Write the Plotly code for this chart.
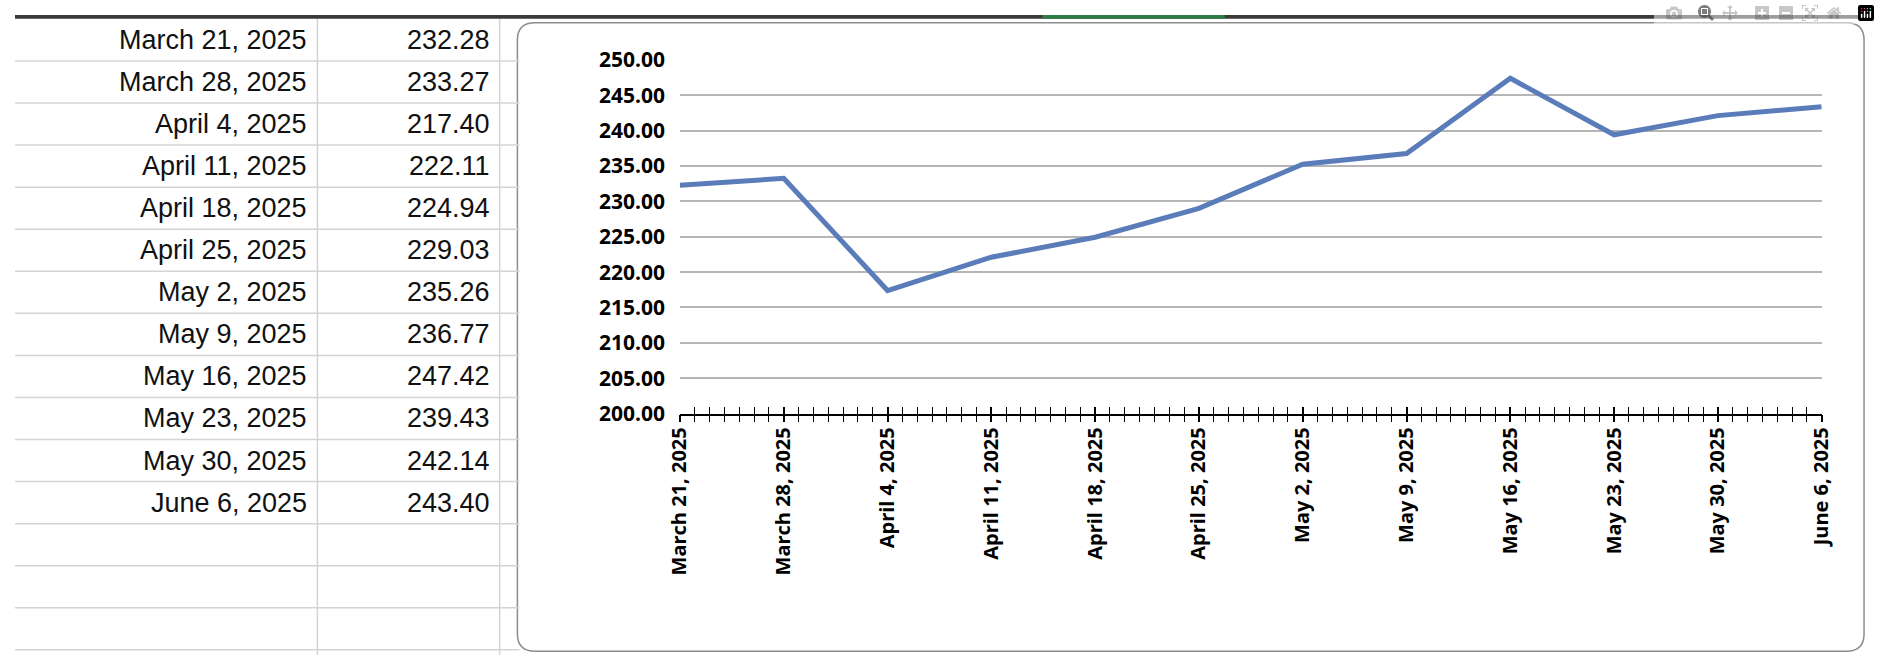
import plotly.graph_objects as go
import pandas as pd

dates = ["2025-03-21","2025-03-28","2025-04-04","2025-04-11","2025-04-18","2025-04-25",
         "2025-05-02","2025-05-09","2025-05-16","2025-05-23","2025-05-30","2025-06-06"]
values = [232.28,233.27,217.40,222.11,224.94,229.03,235.26,236.77,247.42,239.43,242.14,243.40]

W, H = 1880, 668
def px(x): return x / W
def py(y): return 1 - y / H

fig = go.Figure()
fig.add_trace(go.Scatter(x=dates, y=values, mode="lines",
                         line=dict(color="#5A7DBA", width=5), xaxis="x", yaxis="y"))
fig.add_trace(go.Scatter(x=dates, y=values, mode="lines", line=dict(width=0),
                         hoverinfo="skip", xaxis="x2", yaxis="y", showlegend=False))

shapes = []
for k in range(15):
    y = 48 + 43.9 * k
    shapes.append(dict(type="line", xref="paper", yref="paper", x0=0, x1=px(512),
                       y0=py(y), y1=py(y), line=dict(color="#D4D4D4", width=1.5)))
for x in (307, 492):
    shapes.append(dict(type="line", xref="paper", yref="paper", x0=px(x), x1=px(x),
                       y0=0, y1=1, line=dict(color="#D4D4D4", width=1.5)))
shapes.append(dict(type="rect", xref="paper", yref="paper", x0=0, x1=1, y0=py(4), y1=1,
                   fillcolor="#3A3A3A", line=dict(width=0)))
shapes.append(dict(type="rect", xref="paper", yref="paper", x0=px(1043), x1=px(1228), y0=py(4), y1=1,
                   fillcolor="#2E7D46", line=dict(width=0)))
x0, x1, y0, y1 = px(510), px(1877), py(664), py(8)
rx, ry = 18 / W, 18 / H
path = (f"M {x0+rx},{y1} L {x1-rx},{y1} Q {x1},{y1} {x1},{y1-ry} L {x1},{y0+ry} "
        f"Q {x1},{y0} {x1-rx},{y0} L {x0+rx},{y0} Q {x0},{y0} {x0},{y0+ry} "
        f"L {x0},{y1-ry} Q {x0},{y1} {x0+rx},{y1} Z")
shapes.append(dict(type="path", xref="paper", yref="paper", path=path,
                   fillcolor="white", line=dict(color="#8C8C8C", width=1.5), layer="below"))

annotations = []
tfont = dict(size=27, color="#111", family="Liberation Sans Narrow, Liberation Sans")
for k, (d, v) in enumerate(zip(dates, values)):
    y = 26 + 43.9 * k
    lbl = pd.Timestamp(d).strftime("%B %-d, %Y")
    annotations.append(dict(xref="paper", yref="paper", x=px(298), y=py(y), text=lbl,
                            showarrow=False, xanchor="right", yanchor="middle", font=tfont))
    annotations.append(dict(xref="paper", yref="paper", x=px(484), y=py(y), text=f"{v:.2f}",
                            showarrow=False, xanchor="right", yanchor="middle", font=tfont))

dom_x = [px(675), px(1834)]
rng = ["2025-03-21", "2025-06-06"]
fig.update_layout(
    width=W, height=H, margin=dict(l=0, r=0, t=0, b=0),
    paper_bgcolor="white", plot_bgcolor="rgba(0,0,0,0)", showlegend=False,
    shapes=shapes, annotations=annotations,
    xaxis=dict(domain=dom_x, type="date", range=rng, tick0="2025-03-21", dtick=7*86400000,
               tickformat="%B %-d, %Y", tickangle=-90, ticks="inside", ticklen=7,
               tickcolor="black", tickwidth=1.5, showgrid=False, showline=True,
               linecolor="black", linewidth=1.5, anchor="y", ticklabelstandoff=4,
               tickfont=dict(family="Open Sans", size=20, color="black", weight="bold"),
               minor=dict(dtick=86400000, ticks="inside", ticklen=7, tickcolor="black", tickwidth=1, showgrid=False)),
    xaxis2=dict(domain=dom_x, type="date", range=rng, tick0="2025-03-21", dtick=7*86400000,
                overlaying="x", anchor="y", showticklabels=False, ticks="outside", ticklen=7,
                tickcolor="black", tickwidth=1.5, showgrid=False,
                minor=dict(dtick=86400000, ticks="outside", ticklen=7, tickcolor="black", tickwidth=1)),
    yaxis=dict(domain=[py(416), py(47)], range=[200, 250], dtick=5, tickformat=".2f",
               showgrid=True, gridcolor="#B5B5B5", gridwidth=1.5, zeroline=False, ticks="",
               ticklabelstandoff=14,
               tickfont=dict(family="Open Sans", size=21, color="black", weight="bold")),
)
fig.write_html("out.html")
with open("out.html", encoding="utf-8") as f:
    html = f.read()
html = html.replace("<head>", "<head><style>html,body{margin:0;padding:0;overflow:hidden}</style>", 1)
with open("out.html", "w", encoding="utf-8") as f:
    f.write(html)
